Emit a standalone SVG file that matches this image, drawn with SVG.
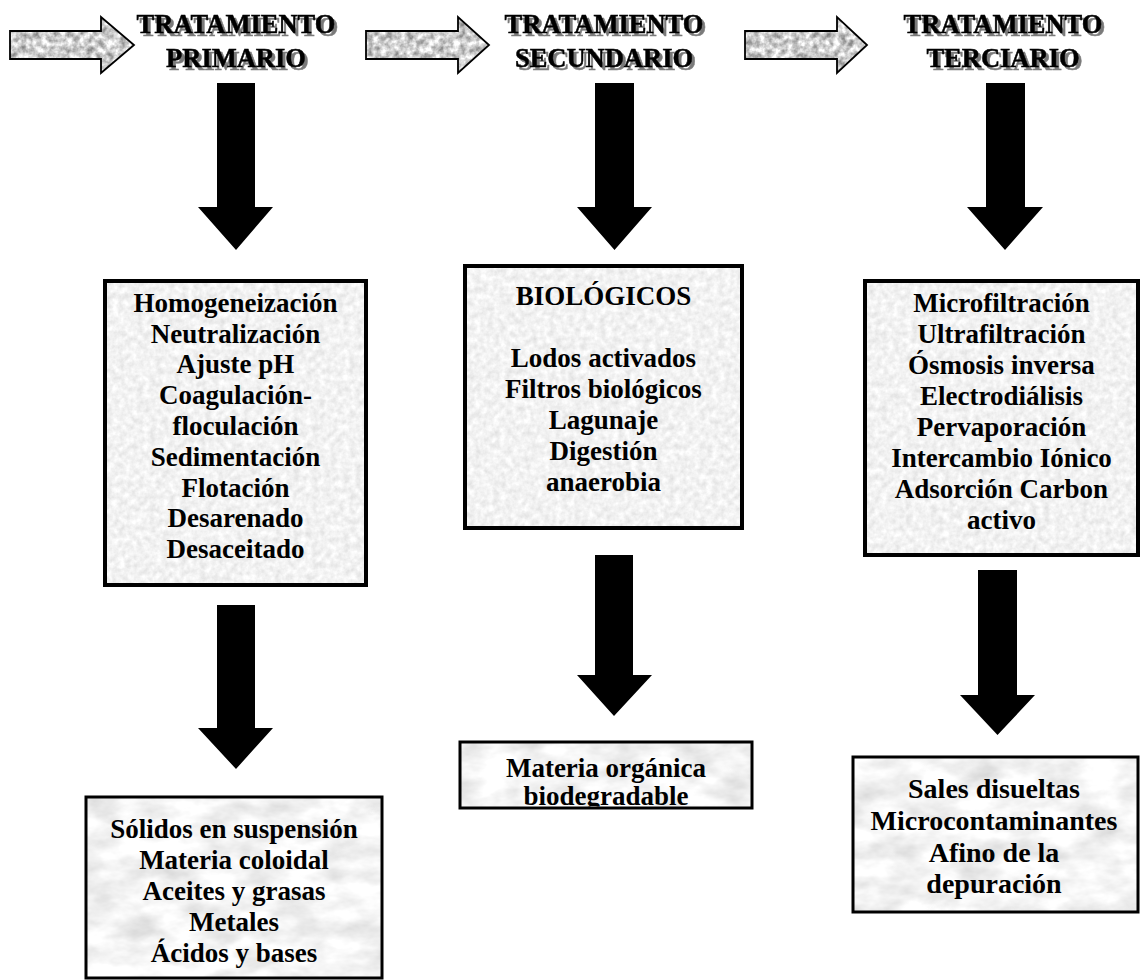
<svg xmlns="http://www.w3.org/2000/svg" width="1141" height="980" viewBox="0 0 1141 980">
<style>
.t{font-family:"Liberation Serif","Times New Roman",serif;font-weight:bold;font-size:27px;text-anchor:middle;fill:#000}
.big{font-size:28px}
.title{font-family:"Liberation Serif","Times New Roman",serif;font-weight:bold;font-size:26.5px;text-anchor:middle;fill:#000;stroke:#000;stroke-width:0.5}
.box{fill:none;stroke:#000;stroke-width:4}
.box2{fill:none;stroke:#000;stroke-width:3}
.down{fill:#000}
.side{fill:none;stroke:#000;stroke-width:1.8;stroke-linejoin:miter}
</style>
<defs>
<filter id="shadow" x="-5%" y="-20%" width="115%" height="150%" color-interpolation-filters="sRGB">
<feOffset in="SourceAlpha" dx="3" dy="3" result="o"/>
<feFlood flood-color="#7a7a7a"/>
<feComposite in2="o" operator="in" result="s"/>
<feMerge><feMergeNode in="s"/><feMergeNode in="SourceGraphic"/></feMerge>
</filter>
<filter id="paper" x="0" y="0" width="100%" height="100%" color-interpolation-filters="sRGB">
<feTurbulence type="fractalNoise" baseFrequency="0.16" numOctaves="3" seed="4" result="n"/>
<feColorMatrix in="n" type="matrix" values="0.18 0 0 0 0.86  0.18 0 0 0 0.86  0.18 0 0 0 0.86  0 0 0 0 1"/>
</filter>
<filter id="marble" x="0" y="0" width="100%" height="100%" color-interpolation-filters="sRGB">
<feTurbulence type="fractalNoise" baseFrequency="0.025 0.05" numOctaves="4" seed="9" result="n"/>
<feColorMatrix in="n" type="matrix" values="0.26 0 0 0 0.83  0.26 0 0 0 0.83  0.26 0 0 0 0.83  0 0 0 0 1"/>
</filter>
<filter id="granite" x="0" y="0" width="100%" height="100%" color-interpolation-filters="sRGB">
<feTurbulence type="fractalNoise" baseFrequency="0.15" numOctaves="3" seed="2" result="n"/>
<feColorMatrix in="n" type="matrix" values="0.85 0 0 0 0.38  0.85 0 0 0 0.38  0.85 0 0 0 0.38  0 0 0 0 1" result="g"/>
<feComposite in="g" in2="SourceGraphic" operator="in"/>
</filter>
<clipPath id="clipMid"><rect x="461.5" y="743.5" width="289" height="63"/></clipPath>
</defs>

<g id="connectors">
  <polygon filter="url(#granite)" fill="#bbb" points="10,31 101,31 101,17 134,45 101,73 101,59 10,59"/>
  <polygon class="side" points="10,31 101,31 101,17 134,45 101,73 101,59 10,59"/>
  <polygon filter="url(#granite)" fill="#bbb" points="366,31 458,31 458,17 489,45 458,73 458,59 366,59"/>
  <polygon class="side" points="366,31 458,31 458,17 489,45 458,73 458,59 366,59"/>
  <polygon filter="url(#granite)" fill="#bbb" points="745,31 837,31 837,17 867,45 837,73 837,59 745,59"/>
  <polygon class="side" points="745,31 837,31 837,17 867,45 837,73 837,59 745,59"/>

  <polygon class="down" points="217,83 255,83 255,207 273,207 236,250 198,207 217,207"/>
  <polygon class="down" points="595,83 634,83 634,207 652,207 614.5,250 577,207 595,207"/>
  <polygon class="down" points="986,83 1025,83 1025,207 1043,207 1005,250 967,207 986,207"/>

  <polygon class="down" points="217,605 255,605 255,728 273,728 236,769 198,728 217,728"/>
  <polygon class="down" points="595,555 633,555 633,675 652,675 614,716 577,675 595,675"/>
  <polygon class="down" points="978,570 1017,570 1017,695 1035,695 997.5,735 960,695 978,695"/>
</g>

<g id="title-primario" filter="url(#shadow)">
  <text class="title" x="236" y="33">TRATAMIENTO</text>
  <text class="title" x="236" y="67">PRIMARIO</text>
</g>
<g id="title-secundario" filter="url(#shadow)">
  <text class="title" x="604" y="33">TRATAMIENTO</text>
  <text class="title" x="604" y="67">SECUNDARIO</text>
</g>
<g id="title-terciario" filter="url(#shadow)">
  <text class="title" x="1003" y="33">TRATAMIENTO</text>
  <text class="title" x="1003" y="67">TERCIARIO</text>
</g>

<g id="box-primario">
  <rect x="105" y="281" width="261" height="304" filter="url(#paper)"/>
  <rect class="box" x="105" y="281" width="261" height="304"/>
  <text class="t" x="235.5" y="312">Homogeneización</text>
  <text class="t" x="235.5" y="343">Neutralización</text>
  <text class="t" x="235.5" y="373">Ajuste pH</text>
  <text class="t" x="235.5" y="404">Coagulación-</text>
  <text class="t" x="235.5" y="435">floculación</text>
  <text class="t" x="235.5" y="466">Sedimentación</text>
  <text class="t" x="235.5" y="497">Flotación</text>
  <text class="t" x="235.5" y="527">Desarenado</text>
  <text class="t" x="235.5" y="558">Desaceitado</text>
</g>

<g id="box-secundario">
  <rect x="465" y="266" width="277" height="262" filter="url(#paper)"/>
  <rect class="box" x="465" y="266" width="277" height="262"/>
  <text class="t" x="603.5" y="305">BIOLÓGICOS</text>
  <text class="t" x="603.5" y="367">Lodos activados</text>
  <text class="t" x="603.5" y="398">Filtros biológicos</text>
  <text class="t" x="603.5" y="429">Lagunaje</text>
  <text class="t" x="603.5" y="460">Digestión</text>
  <text class="t" x="603.5" y="491">anaerobia</text>
</g>

<g id="box-terciario">
  <rect x="865" y="281" width="273" height="274" filter="url(#paper)"/>
  <rect class="box" x="865" y="281" width="273" height="274"/>
  <text class="t" x="1001.5" y="312">Microfiltración</text>
  <text class="t" x="1001.5" y="343">Ultrafiltración</text>
  <text class="t" x="1001.5" y="374">Ósmosis inversa</text>
  <text class="t" x="1001.5" y="405">Electrodiálisis</text>
  <text class="t" x="1001.5" y="436">Pervaporación</text>
  <text class="t" x="1001.5" y="467">Intercambio Iónico</text>
  <text class="t" x="1001.5" y="498">Adsorción Carbon</text>
  <text class="t" x="1001.5" y="529">activo</text>
</g>

<g id="result-primario">
  <rect x="86" y="797" width="296" height="181" filter="url(#marble)"/>
  <rect class="box2" x="86" y="797" width="296" height="181"/>
  <text class="t" x="234" y="838">Sólidos en suspensión</text>
  <text class="t" x="234" y="869">Materia coloidal</text>
  <text class="t" x="234" y="900">Aceites y grasas</text>
  <text class="t" x="234" y="931">Metales</text>
  <text class="t" x="234" y="962">Ácidos y bases</text>
</g>

<g id="result-secundario">
  <rect x="460" y="742" width="292" height="66" filter="url(#marble)"/>
  <g clip-path="url(#clipMid)">
    <text class="t" x="606" y="777">Materia orgánica</text>
    <text class="t" x="606" y="805">biodegradable</text>
  </g>
  <rect class="box2" x="460" y="742" width="292" height="66"/>
</g>

<g id="result-terciario">
  <rect x="853" y="757" width="285" height="155" filter="url(#marble)"/>
  <rect class="box2" x="853" y="757" width="285" height="155"/>
  <text class="t big" x="994" y="798">Sales disueltas</text>
  <text class="t big" x="994" y="830">Microcontaminantes</text>
  <text class="t big" x="994" y="862">Afino de la</text>
  <text class="t big" x="994" y="893">depuración</text>
</g>
</svg>
